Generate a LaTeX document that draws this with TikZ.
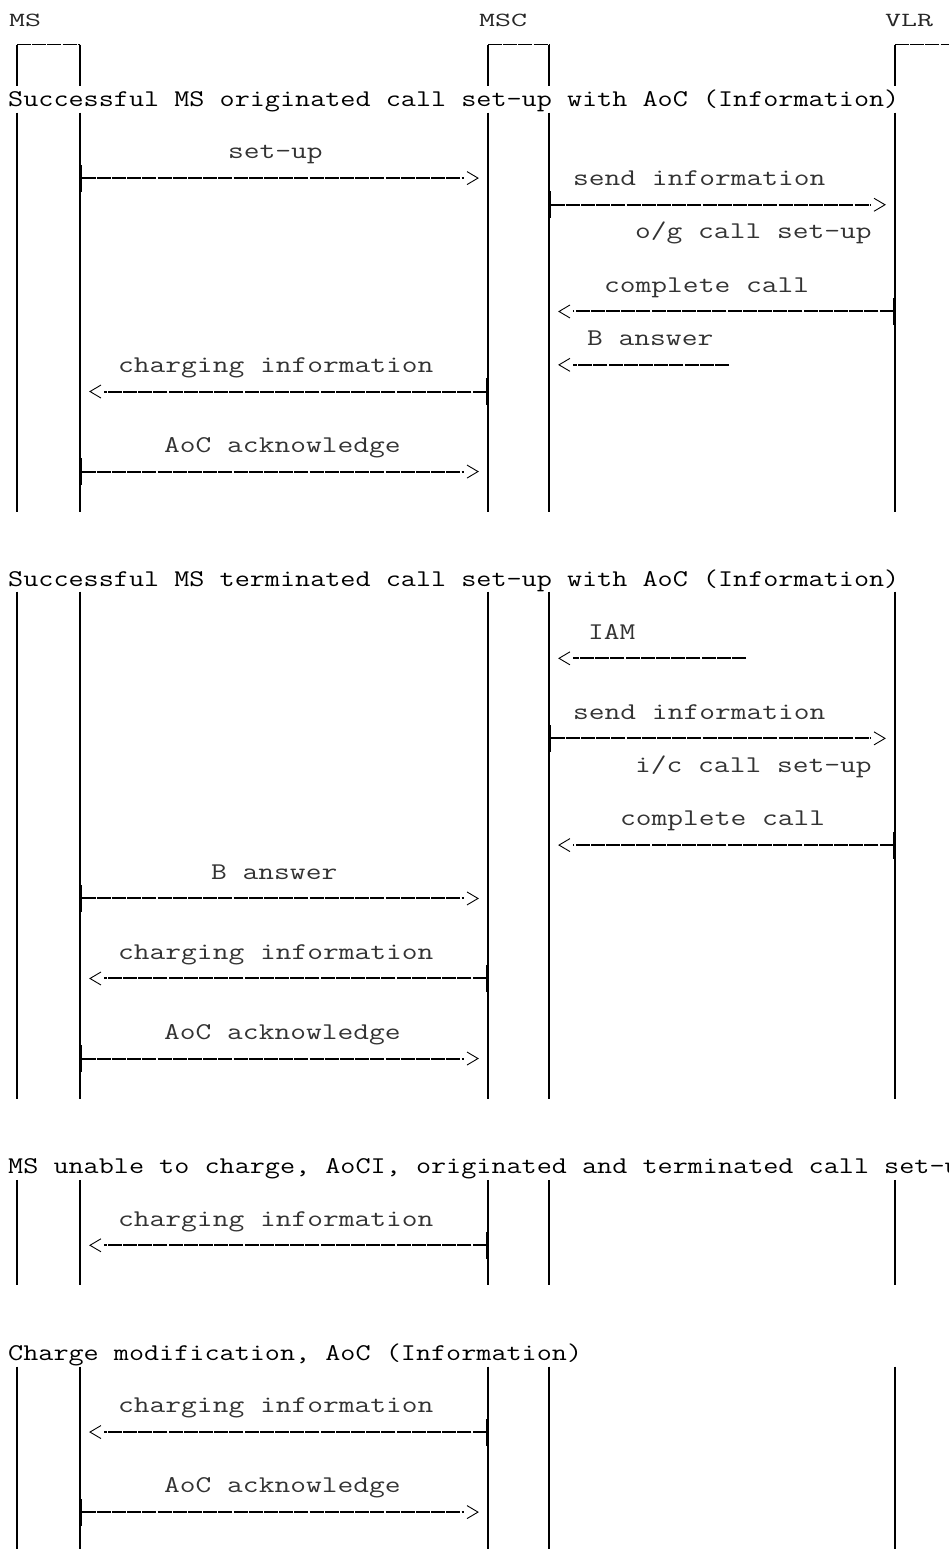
\documentclass[tikz,border=0pt]{standalone}
\usepackage{graphicx}
\usetikzlibrary{arrows.meta}

% open chevron tip, with a small gap before the line
\pgfdeclarearrow{
  name = Chevron,
  parameters = {\the\pgfarrowlength,\the\pgfarrowwidth},
  setup code = {
    \pgfarrowssettipend{0pt}
    \pgfarrowssetlineend{-1.27\pgfarrowlength}
    \pgfarrowssetbackend{-\pgfarrowlength}
    \pgfarrowssavethe\pgfarrowlength
    \pgfarrowssavethe\pgfarrowwidth
  },
  drawing code = {
    \pgfsetdash{}{0pt}
    \pgfsetlinewidth{0.9pt}
    \pgfpathmoveto{\pgfqpoint{-\pgfarrowlength}{.5\pgfarrowwidth}}
    \pgfpathlineto{\pgfqpoint{0pt}{0pt}}
    \pgfpathlineto{\pgfqpoint{-\pgfarrowlength}{-.5\pgfarrowwidth}}
    \pgfusepathqstroke
  },
  defaults = {length = 11pt, width = 13pt}
}

\newcommand\lblw[1]{\scalebox{1.275}[1]{#1}}
\newcommand\headw[1]{\scalebox{1.222}[1]{#1}}
\newcommand\topw[1]{\scalebox{1.55}[1]{#1}}

\begin{document}
\begin{tikzpicture}[x=1pt, y=-26.68pt]
	\tikzstyle{life}=[line width=1.2pt]
	\tikzstyle{boxtop}=[line width=1.6pt, dash pattern=on 14pt off 1.2pt]
	\tikzstyle{msg}=[line width=2pt, dash pattern=on 14pt off 1.2pt, {Bar[width=27pt,line width=2pt]}-{Chevron}, shorten >=10pt]
	\tikzstyle{free}=[line width=2pt, dash pattern=on 14pt off 1.2pt, -{Chevron}, shorten >=10pt]
	\tikzstyle{lbl}=[anchor=mid west, inner sep=0pt, text=black!80, font=\fontsize{24}{28}\selectfont\ttfamily]
	\tikzstyle{head}=[anchor=mid west, inner sep=0pt, font=\fontsize{24}{28}\selectfont\ttfamily]
	\tikzstyle{party}=[anchor=base west, inner sep=0pt, text=black!85, font=\fontsize{20}{24}\selectfont\ttfamily]

	\useasboundingbox (0,-0.6747) rectangle (949,57.384);
	\clip (0,-0.6747) rectangle (949,57.384);

	% parties
	\node[party] (ms) at (9,0.3) {\topw{MS}};
	\node[party] (msc) at (479,0.3) {\topw{MSC}};
	\node[party] (vlr) at (885,0.3) {\topw{VLR}};

	\coordinate (ms-l) at (17,1);
	\coordinate (ms-r) at (80,1);
	\coordinate (msc-l) at (488,1);
	\coordinate (msc-r) at (549,1);
	\coordinate (vlr-l) at (895,1);
	\coordinate (vlr-r) at (965,1);

	\draw[boxtop] (ms-l) -- (ms-r) (msc-l) -- (msc-r) (vlr-l) -- (vlr-r);

	% life lines, one piece per section
	\foreach \x in {17,80,488,549,895}
		\draw[life] (\x,1) -- (\x,2.55) (\x,3.55) -- (\x,18.5)
			(\x,21.5) -- (\x,40.5) (\x,43.55) -- (\x,47.5) (\x,50.55) -- (\x,57.5);

	% originated call
	\node[head] (h-orig) at (8,3.24) {\headw{Successful MS originated call set-up with AoC (Information)}};
	\node[lbl] (l-setup) at (228,5.2) {\lblw{set-up}};
	\draw[msg] (ms-r |- 0,6) -- (msc-l |- 0,6);
	\node[lbl] (l-send1) at (573,6.2) {\lblw{send information}};
	\draw[msg] (msc-r |- 0,7) -- (vlr-l |- 0,7);
	\node[lbl] (l-og) at (635,8.2) {\lblw{o/g call set-up}};
	\node[lbl] (l-compl1) at (604,10.2) {\lblw{complete call}};
	\draw[msg] (vlr-l |- 0,11) -- (msc-r |- 0,11);
	\node[lbl] (l-bans1) at (587,12.2) {\lblw{B answer}};
	\coordinate (bans1) at (729,13);
	\draw[free] (bans1) -- (msc-r |- bans1);
	\node[lbl] (l-chg1) at (118,13.2) {\lblw{charging information}};
	\draw[msg] (msc-l |- 0,14) -- (ms-r |- 0,14);
	\node[lbl] (l-ack1) at (164,16.2) {\lblw{AoC acknowledge}};
	\draw[msg] (ms-r |- 0,17) -- (msc-l |- 0,17);

	% terminated call
	\node[head] (h-term) at (8,21.24) {\headw{Successful MS terminated call set-up with AoC (Information)}};
	\node[lbl] (l-iam) at (588,23.2) {\lblw{IAM}};
	\coordinate (iam) at (746,24);
	\draw[free] (iam) -- (msc-r |- iam);
	\node[lbl] (l-send2) at (573,26.2) {\lblw{send information}};
	\draw[msg] (msc-r |- 0,27) -- (vlr-l |- 0,27);
	\node[lbl] (l-ic) at (635,28.2) {\lblw{i/c call set-up}};
	\node[lbl] (l-compl2) at (620,30.2) {\lblw{complete call}};
	\draw[msg] (vlr-l |- 0,31) -- (msc-r |- 0,31);
	\node[lbl] (l-bans2) at (211,32.2) {\lblw{B answer}};
	\draw[msg] (ms-r |- 0,33) -- (msc-l |- 0,33);
	\node[lbl] (l-chg2) at (118,35.2) {\lblw{charging information}};
	\draw[msg] (msc-l |- 0,36) -- (ms-r |- 0,36);
	\node[lbl] (l-ack2) at (164,38.2) {\lblw{AoC acknowledge}};
	\draw[msg] (ms-r |- 0,39) -- (msc-l |- 0,39);

	% unable to charge
	\node[head] (h-unable) at (8,43.24) {\headw{MS unable to charge, AoCI, originated and terminated call set-up}};
	\node[lbl] (l-chg3) at (118,45.2) {\lblw{charging information}};
	\draw[msg] (msc-l |- 0,46) -- (ms-r |- 0,46);

	% charge modification
	\node[head] (h-mod) at (8,50.24) {\headw{Charge modification, AoC (Information)}};
	\node[lbl] (l-chg4) at (118,52.2) {\lblw{charging information}};
	\draw[msg] (msc-l |- 0,53) -- (ms-r |- 0,53);
	\node[lbl] (l-ack4) at (164,55.2) {\lblw{AoC acknowledge}};
	\draw[msg] (ms-r |- 0,56) -- (msc-l |- 0,56);
\end{tikzpicture}
\end{document}
